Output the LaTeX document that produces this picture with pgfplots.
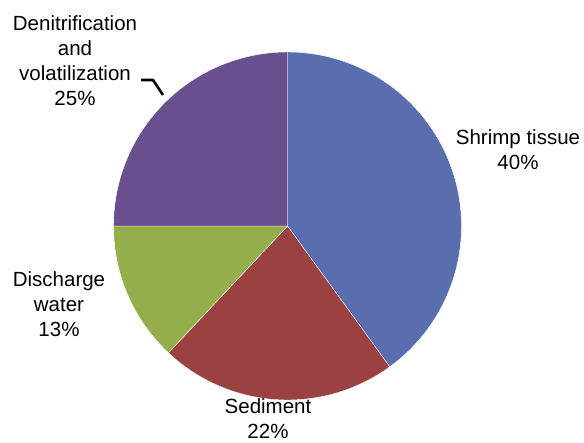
\documentclass[border=0pt]{standalone}
\usepackage{pgfplots}
\pgfplotsset{compat=1.18}
\usepackage{fontspec}
\setmainfont{Liberation Sans}
\definecolor{cShrimp}{HTML}{5A6EAF}
\definecolor{cSed}{HTML}{9B4141}
\definecolor{cDis}{HTML}{94AE4C}
\definecolor{cDen}{HTML}{6A4F8F}
\begin{document}
\begin{tikzpicture}[every node/.style={font=\fontsize{20.5}{25}\selectfont, align=center, text=black}]
% data (percent)
\def\vShrimp{40}
\def\vSed{22}
\def\vDis{13}
\def\vDen{25}
\pgfmathsetmacro{\aA}{90}
\pgfmathsetmacro{\aB}{\aA-3.6*\vShrimp}
\pgfmathsetmacro{\aC}{\aB-3.6*\vSed}
\pgfmathsetmacro{\aD}{\aC-3.6*\vDis}
\pgfmathsetmacro{\aE}{\aD-3.6*\vDen}
\begin{axis}[scale only axis, width=584pt, height=440pt,
  xmin=0, xmax=584, ymin=0, ymax=440, hide axis, clip=false]
\draw[draw=none] (0,0) rectangle (584,440);
\addplot[fill=cShrimp, draw=white, line width=0.4pt, domain=\aB:\aA, samples=90, variable=\t]
  ({287.5+174*cos(\t)},{214+174*sin(\t)}) -- (287.5,214) -- cycle;
\addplot[fill=cSed, draw=white, line width=0.4pt, domain=\aC:\aB, samples=60, variable=\t]
  ({287.5+174*cos(\t)},{214+174*sin(\t)}) -- (287.5,214) -- cycle;
\addplot[fill=cDis, draw=white, line width=0.4pt, domain=\aD:\aC, samples=40, variable=\t]
  ({287.5+174*cos(\t)},{214+174*sin(\t)}) -- (287.5,214) -- cycle;
\addplot[fill=cDen, draw=white, line width=0.4pt, domain=\aE:\aD, samples=60, variable=\t]
  ({287.5+174*cos(\t)},{214+174*sin(\t)}) -- (287.5,214) -- cycle;
\draw[black, line width=2.6pt] (141,360) -- (153,360) -- (163,345);
\node at (518,290) {Shrimp tissue\\\vShrimp\%};
\node at (268,21) {Sediment\\\vSed\%};
\node at (59,136) {Discharge\\water\\\vDis\%};
\node at (75,379) {Denitrification\\and\\volatilization\\\vDen\%};
\end{axis}
\end{tikzpicture}
\end{document}
